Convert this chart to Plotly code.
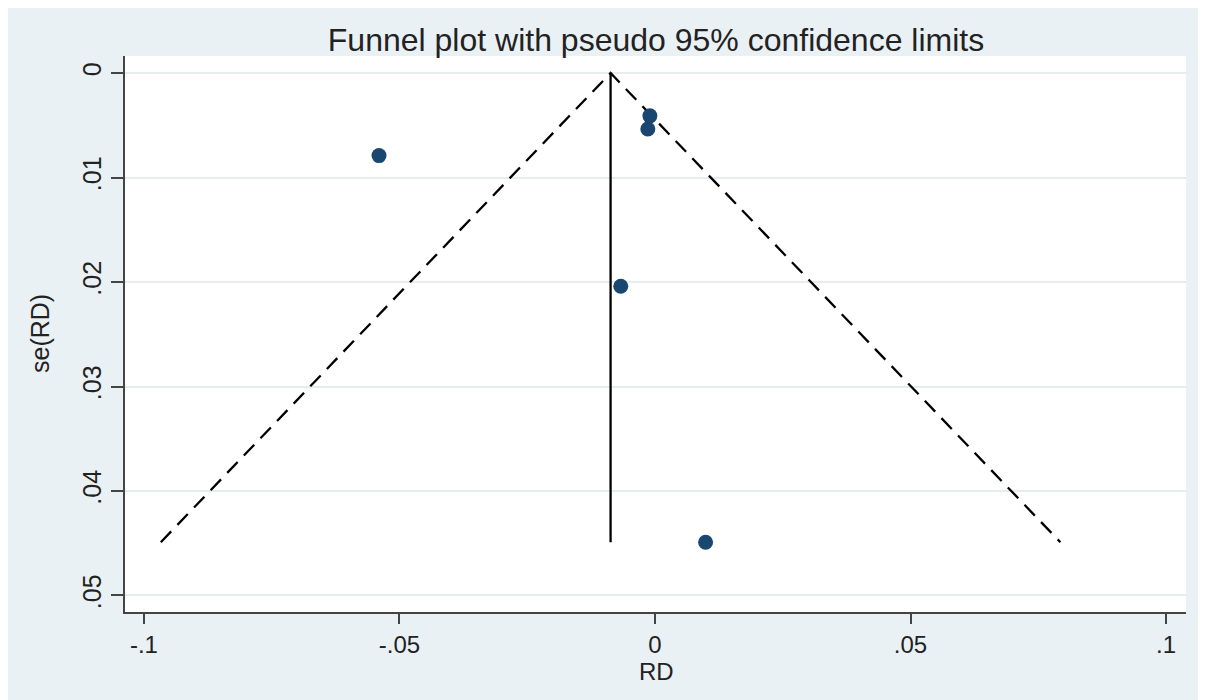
import plotly.graph_objects as go
import numpy as np

# Study estimates
rd = [-0.054, -0.001, -0.0014, -0.0067, 0.0099]
se_rd = [0.0079, 0.0041, 0.00535, 0.0204, 0.0449]

x_tick_vals = [-0.1, -0.05, 0, 0.05, 0.1]
x_tick_text = ["-.1", "-.05", "0", ".05", ".1"]
y_tick_vals = [0, 0.01, 0.02, 0.03, 0.04, 0.05]
y_tick_text = ["0", ".01", ".02", ".03", ".04", ".05"]

# Fixed-effect pooled estimate and pseudo 95% limits
w = 1 / np.array(se_rd) ** 2
pooled = float(np.sum(w * np.array(rd)) / np.sum(w))
se_max = float(max(se_rd))
z = 1.96

BG = "#EAF1F4"
FONT = "Liberation Sans, Arial, sans-serif"
TXT = "#222222"

fig = go.Figure()

# Pseudo confidence limits (dashed)
fig.add_trace(go.Scatter(
    x=[pooled - z * se_max, pooled, pooled + z * se_max],
    y=[se_max, 0, se_max],
    mode="lines",
    line=dict(color="black", width=2.3, dash="15px,9px"),
    hoverinfo="skip", showlegend=False,
))
# Pooled estimate line
fig.add_trace(go.Scatter(
    x=[pooled, pooled],
    y=[0, se_max],
    mode="lines",
    line=dict(color="black", width=2.3),
    hoverinfo="skip", showlegend=False,
))
# Studies
fig.add_trace(go.Scatter(
    x=rd, y=se_rd,
    mode="markers",
    marker=dict(color="#1a476f", size=15, line=dict(width=0)),
    showlegend=False,
))

# page body has an 8px margin; figure sized to fill the rest
W, H = 1198, 692
L, R, T, B = 117, 20, 48, 88
pw, ph = W - L - R, H - T - B

def fx(page_x):
    return (page_x - 8 - L) / pw

def fy(page_y):
    return (H - B - (page_y - 8)) / ph

fig.update_layout(
    width=W, height=H,
    margin=dict(l=L, r=R, t=T, b=B),
    paper_bgcolor=BG,
    plot_bgcolor="white",
    font=dict(family=FONT, color=TXT, size=25),
    title=dict(text="Funnel plot with pseudo 95% confidence limits",
               x=(656 - 8) / W, xanchor="center", y=1 - 32 / H, yanchor="middle",
               yref="container", font=dict(size=32, color=TXT)),
    annotations=[
        dict(text="RD", xref="paper", yref="paper", x=fx(656), y=fy(671),
             xanchor="center", yanchor="middle", showarrow=False,
             font=dict(size=24, color=TXT)),
        dict(text="se(RD)", xref="paper", yref="paper", x=fx(40), y=fy(334),
             xanchor="center", yanchor="middle", showarrow=False, textangle=-90,
             font=dict(size=25, color=TXT)),
    ],
    xaxis=dict(
        range=[-0.1037, 0.1039],
        tickvals=x_tick_vals, ticktext=x_tick_text,
        ticks="outside", ticklen=10, tickwidth=1.5, tickcolor="#444444",
        showline=True, linecolor="#444444", linewidth=1.5,
        showgrid=False, zeroline=False,
        tickfont=dict(size=24),
        ticklabelstandoff=0,
    ),
    yaxis=dict(
        range=[0.05158, -0.00163],
        tickvals=y_tick_vals, ticktext=y_tick_text,
        tickangle=-90,
        ticks="outside", ticklen=12, tickwidth=1.5, tickcolor="#444444",
        showline=True, linecolor="#444444", linewidth=1.5,
        showgrid=True, gridcolor="#E6EDF0", gridwidth=1.5,
        zeroline=False,
        tickfont=dict(size=25),
    ),
)

fig.write_html("out.html")
